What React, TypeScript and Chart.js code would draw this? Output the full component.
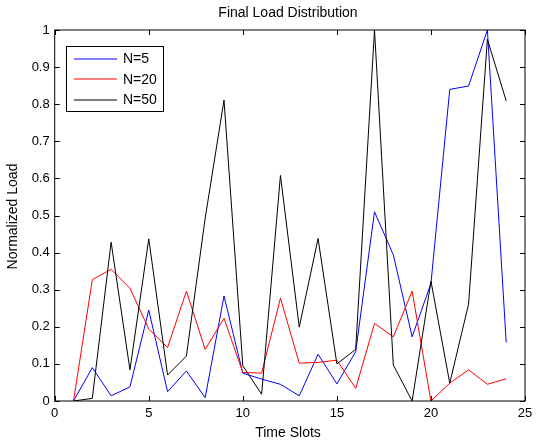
import React, { useEffect, useRef } from "react";
import { Chart, registerables } from "chart.js";

Chart.register(...registerables);

const timeSlots = [1, 2, 3, 4, 5, 6, 7, 8, 9, 10, 11, 12, 13, 14, 15, 16, 17, 18, 19, 20, 21, 22, 23, 24];
const loadN5 = [0, 0.09, 0.014, 0.038, 0.245, 0.025, 0.081, 0.009, 0.283, 0.075, 0.059, 0.045, 0.014, 0.126, 0.046, 0.133, 0.51, 0.394, 0.173, 0.317, 0.84, 0.849, 1.0, 0.158];
const loadN20 = [0, 0.327, 0.355, 0.304, 0.194, 0.144, 0.296, 0.139, 0.223, 0.077, 0.075, 0.277, 0.102, 0.104, 0.11, 0.034, 0.209, 0.173, 0.296, 0, 0.048, 0.084, 0.045, 0.06];
const loadN50 = [0, 0.007, 0.428, 0.084, 0.437, 0.07, 0.121, 0.493, 0.811, 0.095, 0.018, 0.608, 0.199, 0.438, 0.1, 0.139, 1.0, 0.097, 0, 0.323, 0.048, 0.261, 0.975, 0.809];
const seriesNames = ["N=5", "N=20", "N=50"];
const seriesColors = ["#0000ff", "#ff0000", "#000000"];
const xTicks = [0, 5, 10, 15, 20, 25];
const yTicks = [0, 0.1, 0.2, 0.3, 0.4, 0.5, 0.6, 0.7, 0.8, 0.9, 1];
const yTickLabels = ["0", "0.1", "0.2", "0.3", "0.4", "0.5", "0.6", "0.7", "0.8", "0.9", "1"];
const titleText = "Final Load Distribution";
const xTitle = "Time Slots";
const yTitle = "Normalized Load";

const FONT = '"Liberation Sans", Arial, Helvetica, sans-serif';

const decorPlugin = {
  id: "matlabDecor",
  afterDraw(chart: any) {
    const ctx = chart.ctx;
    const a = chart.chartArea;
    const xs = chart.scales.x;
    const ys = chart.scales.y;
    ctx.save();
    ctx.strokeStyle = "#000";
    ctx.lineWidth = 1;
    ctx.strokeRect(a.left, a.top, a.right - a.left, a.bottom - a.top);
    const tl = 5;
    ctx.beginPath();
    xTicks.forEach((v) => {
      const px = Math.round(xs.getPixelForValue(v)) + 0.5;
      ctx.moveTo(px, a.bottom);
      ctx.lineTo(px, a.bottom - tl);
      ctx.moveTo(px, a.top);
      ctx.lineTo(px, a.top + tl);
    });
    yTicks.forEach((v) => {
      const py = Math.round(ys.getPixelForValue(v)) + 0.5;
      ctx.moveTo(a.left, py);
      ctx.lineTo(a.left + tl, py);
      ctx.moveTo(a.right, py);
      ctx.lineTo(a.right - tl, py);
    });
    ctx.stroke();
    ctx.fillStyle = "#000";
    ctx.font = `13px ${FONT}`;
    ctx.textAlign = "center";
    ctx.textBaseline = "middle";
    xTicks.forEach((v) => {
      ctx.fillText(String(v), xs.getPixelForValue(v), 413);
    });
    ctx.textAlign = "right";
    yTicks.forEach((v, i) => {
      ctx.fillText(yTickLabels[i], a.left - 5, ys.getPixelForValue(v));
    });
    ctx.font = `14px ${FONT}`;
    ctx.textAlign = "center";
    ctx.fillText(titleText, 288, 13);
    ctx.fillText(xTitle, 288, 433);
    ctx.save();
    ctx.translate(13.5, 216.5);
    ctx.rotate(-Math.PI / 2);
    ctx.fillText(yTitle, 0, 0);
    ctx.restore();
    ctx.restore();

    // legend
    ctx.save();
    const lx = 66, ly = 46, lw = 97, lh = 65;
    ctx.fillStyle = "#ffffff";
    ctx.fillRect(lx, ly, lw, lh);
    ctx.lineWidth = 1;
    ctx.strokeStyle = "#000000";
    ctx.strokeRect(lx + 0.5, ly + 0.5, lw, lh);
    ctx.font = `14px ${FONT}`;
    ctx.textAlign = "left";
    ctx.textBaseline = "middle";
    for (let i = 0; i < seriesNames.length; i++) {
      const y = ly + 12.5 + i * 20.5;
      ctx.beginPath();
      ctx.moveTo(74, Math.round(y));
      ctx.lineTo(117, Math.round(y));
      ctx.lineWidth = 1.2;
      ctx.strokeStyle = seriesColors[i];
      ctx.stroke();
      ctx.fillStyle = "#000000";
      ctx.fillText(seriesNames[i], 123, y + 1);
    }
    ctx.restore();
  },
};

export default function App() {
  const ref = useRef<HTMLCanvasElement>(null);
  useEffect(() => {
    document.body.style.margin = "0";
    const mk = (vals: number[]) => timeSlots.map((t, i) => ({ x: t, y: vals[i] }));
    const all = [loadN5, loadN20, loadN50];
    const chart = new Chart(ref.current!, {
      type: "line",
      data: {
        datasets: all.map((vals, i) => ({
          label: seriesNames[i],
          data: mk(vals),
          borderColor: seriesColors[i],
          backgroundColor: seriesColors[i],
          borderWidth: 1,
          pointRadius: 0,
          tension: 0,
          fill: false,
          order: 2 - i,
        })),
      },
      options: {
        animation: false,
        responsive: false,
        maintainAspectRatio: false,
        layout: { padding: { left: 54.7, right: 11, top: 30, bottom: 42 } },
        plugins: { legend: { display: false }, title: { display: false }, tooltip: { enabled: false } },
        scales: {
          x: { type: "linear", min: 0, max: 25, display: false },
          y: { type: "linear", min: 0, max: 1, display: false },
        },
      },
      plugins: [decorPlugin],
    });
    return () => chart.destroy();
  }, []);
  return (
    <div style={{ width: 536, height: 443, background: "#fff" }}>
      <canvas ref={ref} width={536} height={443} style={{ display: "block" }} />
    </div>
  );
}
